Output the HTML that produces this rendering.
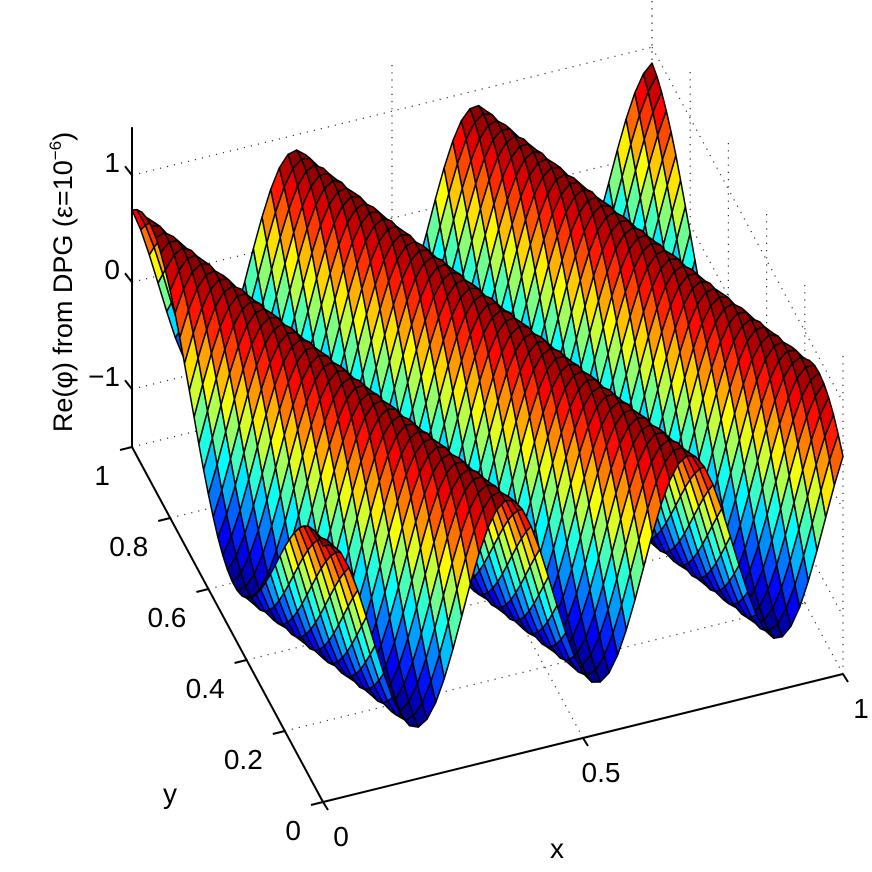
<!DOCTYPE html>
<html><head><meta charset="utf-8"><style>
html,body{margin:0;padding:0;background:#fff}
svg{display:block}
text{font-family:"Liberation Sans",sans-serif;fill:#000}
</style></head><body>
<svg id="chart" width="872" height="872" viewBox="0 0 872 872" xmlns="http://www.w3.org/2000/svg">
<g id="grid"></g>
<g id="surface"></g>
<g id="axes"></g>
<text transform="translate(72,282) rotate(-90)" text-anchor="middle" font-size="27">Re(φ) from DPG (ε=10<tspan font-size="17" dy="-11">−6</tspan><tspan dy="11">)</tspan></text>
<text x="557" y="858" text-anchor="middle" font-size="28">x</text>
<text x="170" y="803" text-anchor="middle" font-size="28">y</text>
</svg>
<script>
// data
const xTicks = [0, 0.5, 1];
const xTickLabels = ["0", "0.5", "1"];
const yTicks = [0, 0.2, 0.4, 0.6, 0.8, 1];
const yTickLabels = ["0", "0.2", "0.4", "0.6", "0.8", "1"];
const zTicks = [-1, 0, 1];
const zTickLabels = ["\u22121", "0", "1"];
const zLimits = [-1.54, 1.45];
// plane-wave parameters: phase = x + skew*y
const wavePeriod = [0.3475];
const waveSkew = [0.39];
const waveOffset = [0.0075];
const waveAmplitude = [0.96];
const waveMean = [-0.1];
const gridCounts = [60, 40];

const NS = "http://www.w3.org/2000/svg";
function P(x, y, z) {
  return [323 + 520 * x - 191 * y, 802 - 128 * x - 355 * y - (z - zLimits[0]) * 107];
}
function phi(x, y) {
  return waveMean[0] + waveAmplitude[0] * Math.cos(2 * Math.PI * (x + waveSkew[0] * y - waveOffset[0]) / wavePeriod[0]);
}
function jet(v) {
  const t = Math.max(0, Math.min(1, v));
  const f = c => Math.round(255 * Math.max(0, Math.min(1, 1.5 - Math.abs(4 * t - c))));
  return `rgb(${f(3)},${f(2)},${f(1)})`;
}
function line(g, a, b, opts, name) {
  const l = document.createElementNS(NS, "line");
  l.setAttribute("x1", a[0]); l.setAttribute("y1", a[1]);
  l.setAttribute("x2", b[0]); l.setAttribute("y2", b[1]);
  for (const k in opts) l.setAttribute(k, opts[k]);
  
  
  g.appendChild(l);
}
const grid = document.getElementById("grid");
const dot = { stroke: "#333", "stroke-width": 1.2, "stroke-dasharray": "1.2 6" };
const z0 = zLimits[0], z1 = zLimits[1];
xTicks.forEach(x => {
  line(grid, P(x, 0, z0), P(x, 1, z0), dot, "floor-grid-x");
  line(grid, P(x, 1, z0), P(x, 1, z1), dot, "back-wall-grid-x");
});
yTicks.forEach(y => {
  line(grid, P(0, y, z0), P(1, y, z0), dot, "floor-grid-y");
  line(grid, P(1, y, z0), P(1, y, z1), dot, "side-wall-grid-y");
});
zTicks.forEach(z => {
  line(grid, P(0, 1, z), P(1, 1, z), dot, "back-wall-grid-z");
  line(grid, P(1, 1, z), P(1, 0, z), dot, "side-wall-grid-z");
});

// surface
const surf = document.getElementById("surface");
const NX = gridCounts[0], NY = gridCounts[1];
const quads = [];
let zmin = Infinity, zmax = -Infinity;
const Z = [];
for (let i = 0; i <= NX; i++) { Z[i] = []; for (let j = 0; j <= NY; j++) { const v = phi(i / NX, j / NY); Z[i][j] = v; zmin = Math.min(zmin, v); zmax = Math.max(zmax, v); } }
for (let i = 0; i < NX; i++) for (let j = 0; j < NY; j++) {
  const xa = i / NX, xb = (i + 1) / NX, ya = j / NY, yb = (j + 1) / NY;
  const depth = 128 * (xa + xb) / 2 + 355 * (ya + yb) / 2;
  quads.push({ i, j, xa, xb, ya, yb, depth });
}
quads.sort((a, b) => b.depth - a.depth);
quads.forEach(q => {
  const pts = [P(q.xa, q.ya, Z[q.i][q.j]), P(q.xb, q.ya, Z[q.i + 1][q.j]), P(q.xb, q.yb, Z[q.i + 1][q.j + 1]), P(q.xa, q.yb, Z[q.i][q.j + 1])];
  const avg = (Z[q.i][q.j] + Z[q.i + 1][q.j] + Z[q.i + 1][q.j + 1] + Z[q.i][q.j + 1]) / 4;
  const p = document.createElementNS(NS, "polygon");
  p.setAttribute("points", pts.map(a => a[0].toFixed(1) + "," + a[1].toFixed(1)).join(" "));
  p.setAttribute("fill", jet((avg - zmin) / (zmax - zmin)));
  p.setAttribute("stroke", "#000");
  p.setAttribute("stroke-width", "1.5");
  p.setAttribute("stroke-linejoin", "round");
  
  
  surf.appendChild(p);
});

// axes
const axes = document.getElementById("axes");
const solid = { stroke: "#000", "stroke-width": 2 };
line(axes, P(0, 0, z0), P(1, 0, z0), solid, "x-axis-line");
line(axes, P(0, 0, z0), P(0, 1, z0), solid, "y-axis-line");
line(axes, P(0, 1, z0), P(0, 1, z1), solid, "z-axis-line");
function txt(s, x, y, name, anchor) {
  const t = document.createElementNS(NS, "text");
  t.setAttribute("x", x); t.setAttribute("y", y);
  t.setAttribute("font-size", "28");
  t.setAttribute("text-anchor", anchor || "middle");
  t.textContent = s;
  
  
  axes.appendChild(t);
}
xTicks.forEach((x, k) => {
  const a = P(x, 0, z0);
  line(axes, a, [a[0] + 5, a[1] + 8], solid, "x-tick");
  txt(xTickLabels[k], a[0] + 18, a[1] + 44, "x-tick-label");
});
yTicks.forEach((y, k) => {
  const a = P(0, y, z0);
  line(axes, a, [a[0] - 12, a[1] + 3], solid, "y-tick");
  txt(yTickLabels[k], a[0] - 22, a[1] + 38, "y-tick-label", "end");
});
zTicks.forEach((z, k) => {
  const a = P(0, 1, z);
  line(axes, a, [a[0] - 7, a[1] - 9], solid, "z-tick");
  txt(zTickLabels[k], a[0] - 12, a[1] - 3, "z-tick-label", "end");
});
</script>
</body></html>
